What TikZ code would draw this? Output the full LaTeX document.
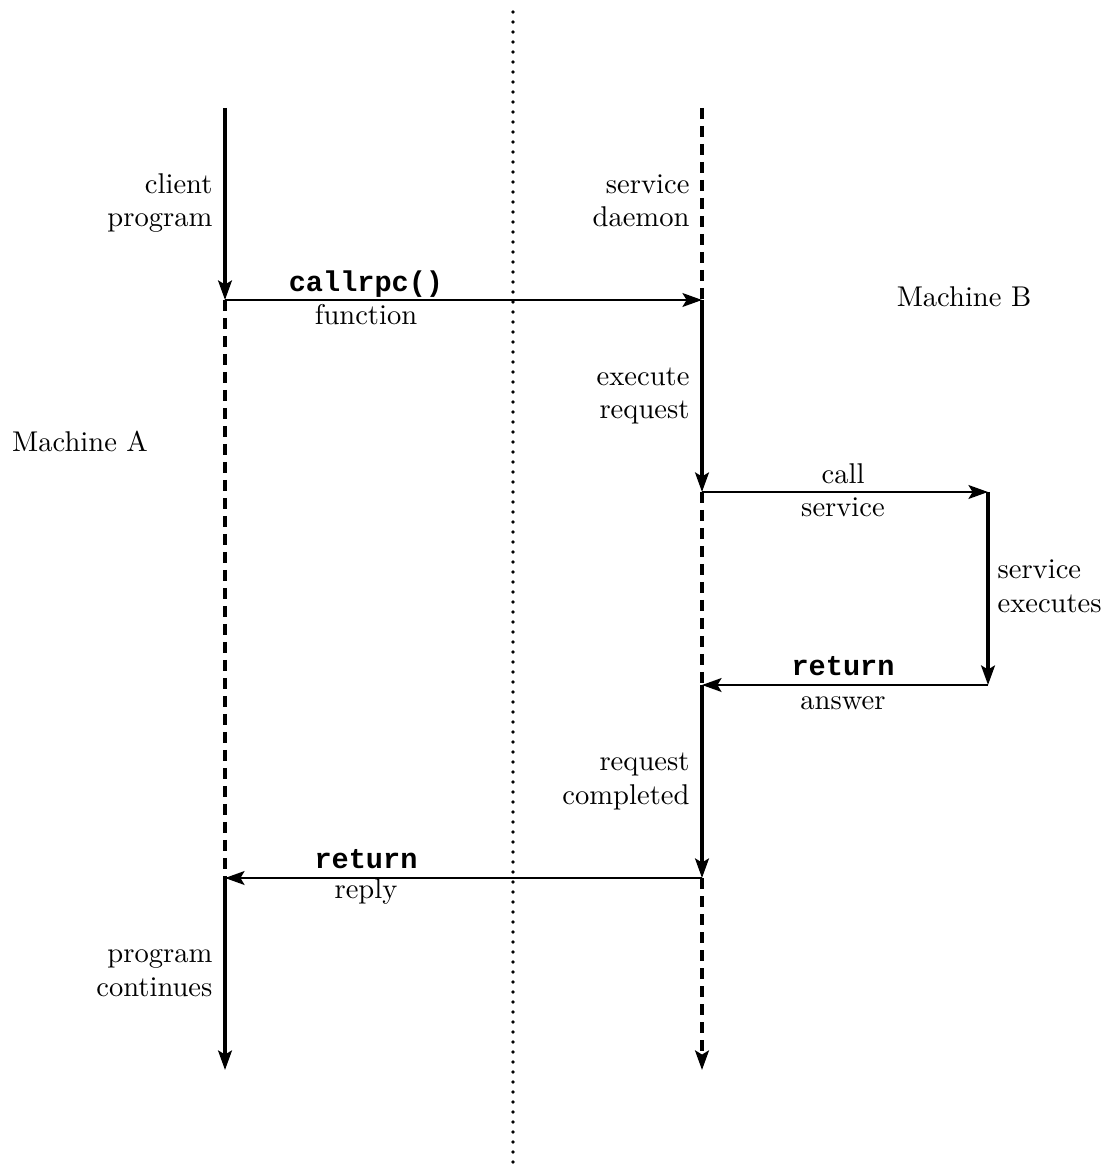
\documentclass[tikz,border=0pt]{standalone}
\usepackage{fontspec}
\newfontfamily\codefont{Liberation Mono}
\usetikzlibrary{arrows.meta}
\begin{document}
\begin{tikzpicture}[x=0.35pt,y=-0.35pt,
  lane/.style={line width=1.2pt},
  gap/.style={line width=1.2pt,dash pattern=on 3.8pt off 2.5pt},
  msg/.style={line width=1pt},
  tip/.style={-{Stealth[length=6.8pt,width=4.8pt,inset=1.4pt]}},
  lbl/.style={font=\fontsize{10}{11.6}\selectfont,inner sep=0pt},
  code/.style={font=\codefont\bfseries\fontsize{10}{12}\selectfont,inner sep=0pt},
  divider/.style={line width=1.3pt,dash pattern=on 0pt off 3.5pt,line cap=round}]
\useasboundingbox (0,0) rectangle (1111,1165);

% time lines of the two processes
\coordinate (a0) at (225,108);
\coordinate (a1) at (225,300);
\coordinate (a2) at (225,878);
\coordinate (a3) at (225,1070);
\coordinate (b0) at (702,108);
\coordinate (b1) at (702,300);
\coordinate (b2) at (702,492);
\coordinate (b3) at (702,685);
\coordinate (b4) at (702,878);
\coordinate (b5) at (702,1070);
\coordinate (s1) at (988,492);
\coordinate (s2) at (988,685);
\coordinate (d0) at (513,12);
\coordinate (d1) at (513,1165);

% machine boundary
\draw[divider] (d0) -- (d1);

% client side
\draw[lane,tip] (a0) -- (a1);
\draw[gap] (a1) -- (a2);
\draw[lane,tip] (a2) -- (a3);

% server side
\draw[gap] (b0) -- (b1);
\draw[lane,tip] (b1) -- (b2);
\draw[gap] (b2) -- (b3);
\draw[lane,tip] (b3) -- (b4);
\draw[gap,tip] (b4) -- (b5);

% service routine
\draw[lane,tip] (s1) -- (s2);

% messages
\draw[msg,tip] (a1) -- (b1);
\draw[msg,tip] (b2) -- (s1);
\draw[msg,tip] (s2) -- (b3);
\draw[msg,tip] (b4) -- (a2);

% labels (two-line labels are placed by the baseline of their last line)
\node[lbl,anchor=base east,align=right] (clientlbl) at (213,227) {client\\program};
\node[lbl,anchor=base east,align=right] (daemonlbl) at (690,227) {service\\daemon};
\node[code,anchor=base] (callrpc) at (366,292) {callrpc()};
\node[lbl,anchor=base] (funclbl) at (366,325) {function};
\node[lbl,anchor=base] (machB) at (964,307) {Machine B};
\node[lbl,anchor=base east,align=right] (execlbl) at (690,419) {execute\\request};
\node[lbl,anchor=base] (machA) at (80,452) {Machine A};
\node[lbl,anchor=base] (calllbl) at (843,484) {call};
\node[lbl,anchor=base] (svclbl) at (843,517) {service};
\node[lbl,anchor=base west,align=left] (execslbl) at (997,612) {service\\executes};
\node[code,anchor=base] (ret1) at (843,675) {return};
\node[lbl,anchor=base] (anslbl) at (843,709) {answer};
\node[lbl,anchor=base east,align=right] (donelbl) at (690,804) {request\\completed};
\node[code,anchor=base] (ret2) at (366,868) {return};
\node[lbl,anchor=base] (replylbl) at (366,898) {reply};
\node[lbl,anchor=base east,align=right] (contlbl) at (213,996) {program\\continues};
\end{tikzpicture}
\end{document}
